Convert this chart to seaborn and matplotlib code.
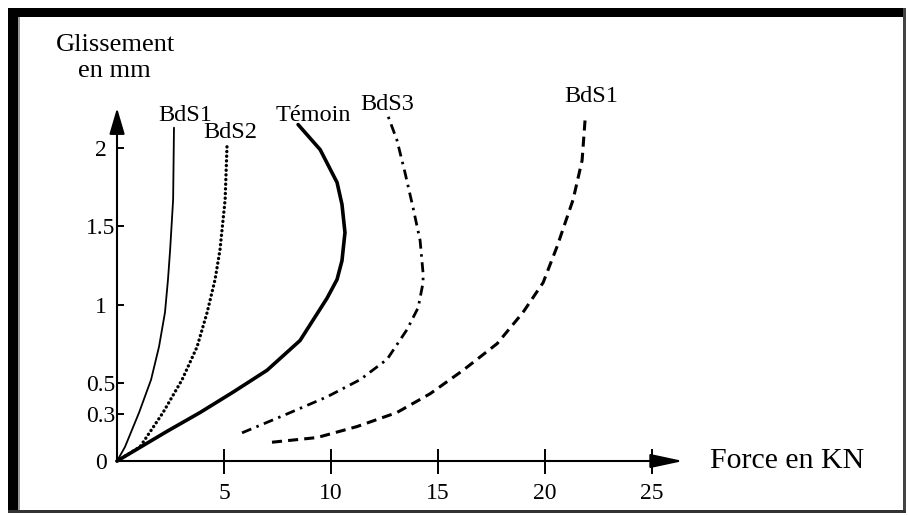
import pandas as pd
import seaborn as sns
import matplotlib.pyplot as plt
from matplotlib.patches import Rectangle

# valeurs : force (kN) / glissement (mm)
bds1_force = [0, 0.37, 1.03, 1.59, 1.96, 2.24, 2.38, 2.48, 2.62, 2.66]
bds1_gliss = [0, 0.09, 0.31, 0.52, 0.73, 0.95, 1.16, 1.35, 1.67, 2.13]

bds2_force = [0, 1.07, 2.15, 3.04, 3.74, 4.21, 4.58, 4.81, 5.05, 5.14]
bds2_gliss = [0, 0.09, 0.31, 0.52, 0.73, 0.95, 1.16, 1.35, 1.67, 2.02]

temoin_force = [0, 2.34, 3.88, 5.42, 7.01, 8.55, 9.81, 10.28, 10.51, 10.65, 10.51, 10.28, 9.49, 8.46]
temoin_gliss = [0, 0.19, 0.31, 0.44, 0.58, 0.77, 1.04, 1.16, 1.28, 1.46, 1.64, 1.78, 1.99, 2.15]

bds3_force = [5.84, 7.76, 9.81, 11.36, 12.62, 13.55, 14.07, 14.30, 14.30, 14.16, 13.83, 13.46, 13.08, 12.62]
bds3_gliss = [0.18, 0.29, 0.41, 0.52, 0.65, 0.84, 0.98, 1.14, 1.20, 1.41, 1.62, 1.84, 2.05, 2.22]

bds1b_force = [7.24, 9.35, 11.21, 13.08, 14.63, 16.17, 17.76, 18.97, 19.91, 20.56, 21.31, 21.73, 21.87]
bds1b_gliss = [0.12, 0.15, 0.22, 0.31, 0.43, 0.58, 0.75, 0.95, 1.14, 1.37, 1.67, 1.92, 2.18]

x_ticks = [5, 10, 15, 20, 25]
y_ticks = [0, 0.3, 0.5, 1, 1.5, 2]
y_tick_labels = ["0", "0.3", "0.5", "1", "1.5", "2"]

sns.set_theme(style="white")
plt.rcParams["font.family"] = ["Liberation Serif", "DejaVu Serif"]

fig = plt.figure(figsize=(9.08, 5.15), dpi=100)
ax = fig.add_axes([0, 0, 1, 1])
ax.set_xlim(-5.47, 36.96)
ax.set_ylim(-0.345, 2.946)
ax.patch.set_alpha(0)

courbes = [
    (bds1_force, bds1_gliss, dict(linewidth=1.3, linestyle="-")),
    (bds2_force, bds2_gliss, dict(linewidth=2.4, linestyle=(0, (0.05, 1.35)), dash_capstyle="round")),
    (temoin_force, temoin_gliss, dict(linewidth=2.6, linestyle="-")),
    (bds3_force, bds3_gliss, dict(linewidth=2.0, linestyle=(0, (3.6, 2.0, 0.9, 2.0)))),
    (bds1b_force, bds1b_gliss, dict(linewidth=2.2, linestyle=(0, (3.3, 2.0)))),
]
for f, g, kw in courbes:
    df = pd.DataFrame({"force": f, "gliss": g})
    sns.lineplot(data=df, x="force", y="gliss", sort=False, estimator=None,
                 color="black", ax=ax, solid_joinstyle="round", **kw)

# axes en croix avec flèches
for side in ["top", "right"]:
    ax.spines[side].set_visible(False)
ax.spines["left"].set_position(("data", 0))
ax.spines["bottom"].set_position(("data", 0))
ax.spines["left"].set_bounds(0, 2.12)
ax.spines["bottom"].set_bounds(0, 25.3)
for side in ["left", "bottom"]:
    ax.spines[side].set_color("black")
    ax.spines[side].set_linewidth(1.5)

ax.annotate("", xy=(0, 2.256), xytext=(0, 2.10),
            arrowprops=dict(arrowstyle="-|>,head_length=1.6,head_width=0.47",
                            mutation_scale=10, color="black", lw=1.5,
                            shrinkA=0, shrinkB=0))
ax.annotate("", xy=(26.45, 0), xytext=(25.2, 0),
            arrowprops=dict(arrowstyle="-|>,head_length=2.0,head_width=0.43",
                            mutation_scale=10, color="black", lw=1.5,
                            shrinkA=0, shrinkB=0))

ax.set_xticks(x_ticks)
ax.set_xticklabels([str(v) for v in x_ticks])
ax.set_yticks(y_ticks)
ax.set_yticklabels(y_tick_labels)
ax.tick_params(axis="x", direction="inout", length=18, width=1.4, color="black",
               labelsize=17, pad=7, bottom=True, labelcolor="black")
ax.tick_params(axis="y", direction="in", length=5, width=1.4, color="black",
               labelsize=17, pad=11.5, left=True, labelcolor="black")
for lab in ax.get_yticklabels():
    lab.set_horizontalalignment("center")
ax.set_xlabel("")
ax.set_ylabel("")

# titres des axes
ax.text(-0.09, 2.66, "Glissement", ha="center", va="center", fontsize=19, color="black")
ax.text(-0.14, 2.49, "en mm", ha="center", va="center", fontsize=19, color="black")
ax.text(27.71, 0.0, "Force en KN", ha="left", va="center", fontsize=21.5, color="black")

# noms des courbes
ax.text(3.18, 2.21, "BdS1", ha="center", va="center", fontsize=17.5, color="black")
ax.text(5.28, 2.10, "BdS2", ha="center", va="center", fontsize=17.5, color="black")
ax.text(9.16, 2.21, "Témoin", ha="center", va="center", fontsize=17.5, color="black")
ax.text(12.62, 2.28, "BdS3", ha="center", va="center", fontsize=17.5, color="black")
ax.text(22.15, 2.33, "BdS1", ha="center", va="center", fontsize=17.5, color="black")

# cadre du scan
W, H = 908, 515
cadre = [
    (8, 8, 906, 17, "black"),
    (8, 8, 18, 512, "black"),
    (18, 17, 19.5, 512, "#999999"),
    (903, 8, 906, 513, "#444444"),
    (8, 510, 906, 513, "#333333"),
]
for x0, y0, x1, y1, c in cadre:
    fig.add_artist(Rectangle((x0 / W, 1 - y1 / H), (x1 - x0) / W, (y1 - y0) / H,
                             transform=fig.transFigure, color=c, lw=0))

fig.savefig("out.png", dpi=100)
